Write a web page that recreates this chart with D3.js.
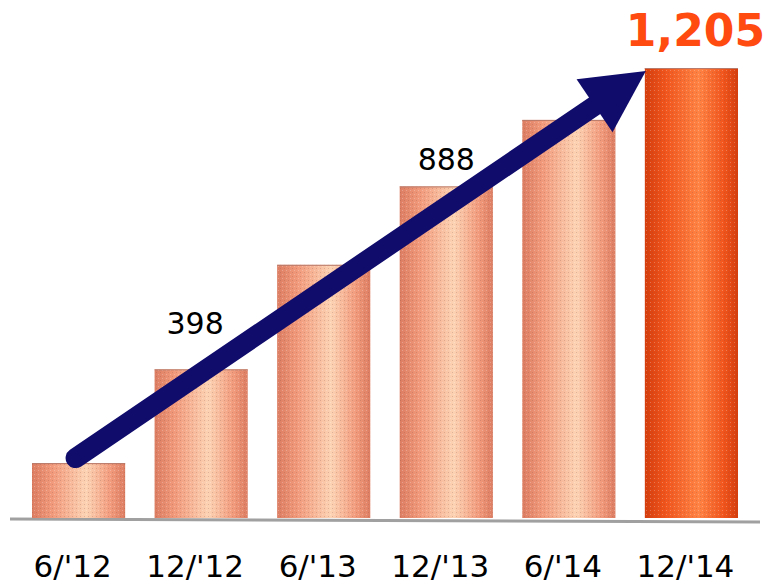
<!DOCTYPE html>
<html>
<head>
<meta charset="utf-8">
<script src="https://cdn.jsdelivr.net/npm/d3@7"></script>
<style>
  body { margin: 0; background: #fff; }
  svg { display: block; }
</style>
</head>
<body>
<div id="chartDiv"></div>
<script>
var width = 770;
var height = 585;

// data
var periods = ["6/'12", "12/'12", "6/'13", "12/'13", "6/'14", "12/'14"];
var counts = [147, 398, 678, 888, 1066, 1205];
var shownLabels = ["", "398", "", "888", "", "1,205"];

var baseY = 518;
var topY = 68;

var x = d3.scaleBand().domain(periods).range([32, 738]).paddingInner(0.24).paddingOuter(0);
var y = d3.scaleLinear().domain([0, 1205]).range([baseY, topY]);

var svg = d3.select("#chartDiv").append("svg")
    .attr("width", width)
    .attr("height", height);

var defs = svg.append("defs");

function cylinder(id, edge, mid, light) {
    var g = defs.append("linearGradient").attr("id", id)
        .attr("x1", "0%").attr("x2", "100%").attr("y1", "0%").attr("y2", "0%");
    g.append("stop").attr("offset", "0%").attr("stop-color", edge);
    g.append("stop").attr("offset", "22%").attr("stop-color", mid);
    g.append("stop").attr("offset", "58%").attr("stop-color", light);
    g.append("stop").attr("offset", "85%").attr("stop-color", mid);
    g.append("stop").attr("offset", "100%").attr("stop-color", edge);
}
cylinder("gSalmon", "#dc7d62", "#f29a7c", "#fcd3b4");
cylinder("gOrange", "#d43d0c", "#f0541c", "#ff8344");

// fine dotted texture on top of the bars
var pat = defs.append("pattern").attr("id", "dots")
    .attr("width", 4).attr("height", 4).attr("patternUnits", "userSpaceOnUse");
pat.append("rect").attr("x", 0).attr("y", 0).attr("width", 1).attr("height", 1)
    .attr("fill", "#8a5040").attr("opacity", 0.25);
pat.append("rect").attr("x", 2).attr("y", 2).attr("width", 1).attr("height", 1)
    .attr("fill", "#ffffff").attr("opacity", 0.25);

// floor line
svg.append("line")
    .attr("x1", 10).attr("y1", baseY + 1)
    .attr("x2", 760).attr("y2", baseY + 4)
    .attr("stroke", "#a0a0a0")
    .attr("stroke-width", 3);

var bars = svg.selectAll(".bar")
    .data(periods)
    .enter().append("g")
    .attr("class", "bar");

bars.append("rect")
    .attr("x", function(d) { return x(d); })
    .attr("y", function(d, i) { return y(counts[i]); })
    .attr("width", x.bandwidth())
    .attr("height", function(d, i) { return baseY - y(counts[i]); })
    .attr("fill", function(d, i) { return i === periods.length - 1 ? "url(#gOrange)" : "url(#gSalmon)"; });

bars.append("rect")
    .attr("x", function(d) { return x(d); })
    .attr("y", function(d, i) { return y(counts[i]); })
    .attr("width", x.bandwidth())
    .attr("height", function(d, i) { return baseY - y(counts[i]); })
    .attr("fill", "url(#dots)");

// top rim
bars.append("line")
    .attr("x1", function(d) { return x(d); })
    .attr("x2", function(d) { return x(d) + x.bandwidth(); })
    .attr("y1", function(d, i) { return y(counts[i]) + 0.5; })
    .attr("y2", function(d, i) { return y(counts[i]) + 0.5; })
    .attr("stroke", "#b87a6a")
    .attr("stroke-width", 1);

// category labels (sit a little left of the bar centres)
svg.selectAll(".cat")
    .data(periods)
    .enter().append("text")
    .attr("class", "cat")
    .attr("x", function(d) { return x(d) + x.bandwidth() / 2 - 6; })
    .attr("y", 577)
    .attr("text-anchor", "middle")
    .style("font-family", "'DejaVu Sans', Verdana, sans-serif")
    .style("font-size", "31px")
    .attr("fill", "#000")
    .text(function(d) { return d; });

// value labels (nudges are placement only)
var labelDx = { "12/'12": -6, "12/'13": 0, "12/'14": 4 };
var labelGap = { "12/'12": 35, "12/'13": 16 };

svg.selectAll(".val")
    .data(periods.filter(function(d, i) { return shownLabels[i] !== ""; }))
    .enter().append("text")
    .attr("class", "val")
    .attr("x", function(d) { return x(d) + x.bandwidth() / 2 + labelDx[d]; })
    .attr("y", function(d) {
        var i = periods.indexOf(d);
        return i === periods.length - 1 ? 46 : y(counts[i]) - labelGap[d];
    })
    .attr("text-anchor", "middle")
    .style("font-family", "'DejaVu Sans', Verdana, sans-serif")
    .style("font-size", function(d) { return d === "12/'14" ? "44px" : "30px"; })
    .style("font-weight", function(d) { return d === "12/'14" ? "bold" : "normal"; })
    .attr("fill", function(d) { return d === "12/'14" ? "#ff4a10" : "#000"; })
    .text(function(d) { return shownLabels[periods.indexOf(d)]; });

// growth arrow from first bar to last bar
var first = periods[0], last = periods[periods.length - 1];
var x0 = x(first) + x.bandwidth() / 2 - 3, y0 = y(counts[0]) - 5;
var x1 = x(last) + 1, y1 = y(counts[counts.length - 1]) + 3;
var ang = Math.atan2(y1 - y0, x1 - x0);
var headLen = 62, headHalf = 32, shaftW = 20;
var bx = x1 - headLen * Math.cos(ang), by = y1 - headLen * Math.sin(ang);
var nx = -Math.sin(ang), ny = Math.cos(ang);

svg.append("line")
    .attr("x1", x0).attr("y1", y0)
    .attr("x2", bx + 2 * Math.cos(ang)).attr("y2", by + 2 * Math.sin(ang))
    .attr("stroke", "#100c6c")
    .attr("stroke-width", shaftW)
    .attr("stroke-linecap", "round");

svg.append("path")
    .attr("d", d3.line()([
        [x1, y1],
        [bx + nx * headHalf, by + ny * headHalf],
        [bx - nx * headHalf, by - ny * headHalf]
    ]) + "Z")
    .attr("fill", "#100c6c");
</script>
</body>
</html>
